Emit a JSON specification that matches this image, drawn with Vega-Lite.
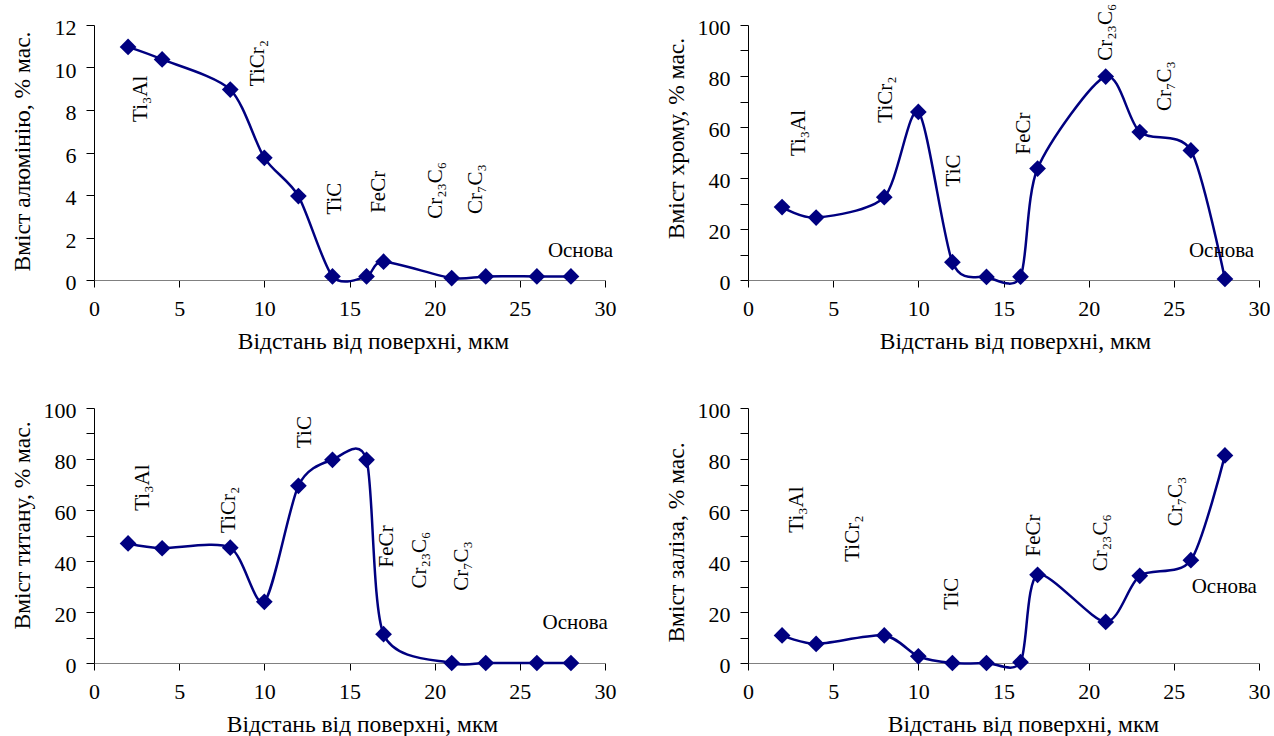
{
  "$schema": "https://vega.github.io/schema/vega-lite/v6.json",
  "autosize": {"type": "pad"},
  "padding": {"left": 9, "top": 3, "right": 0, "bottom": 0},
  "background": "white",
  "columns": 2,
  "spacing": {"row": 128, "column": 143},
  "bounds": "flush",
  "config": {
    "font": "Liberation Serif",
    "view": {"stroke": null},
    "axis": {"grid": false, "labelFont": "Liberation Serif", "labelFontSize": 22, "labelColor": "black", "titleFont": "Liberation Serif", "titleFontSize": 23.5, "titleFontWeight": "normal", "titleColor": "black", "tickColor": "black", "domainColor": "black", "tickSize": 8, "labelPadding": 10},
    "axisX": {"domainColor": "#808080", "tickSize": 7, "labelFlush": false, "labelBaseline": "alphabetic", "labelPadding": 28.5, "titleBaseline": "alphabetic", "titleY": 68, "titleAlign": "center"},
    "axisY": {"labelBaseline": "alphabetic", "labelOffset": 9.5, "labelPadding": 10, "titleBaseline": "alphabetic", "titleX": -65, "titleAlign": "center", "titleAngle": 270}
  },
  "concat": [
    {
      "width": 511, "height": 255,
      "encoding": {
        "x": {"field": "x", "type": "quantitative", "scale": {"domain": [0, 30], "nice": false}, "axis": {"values": [0, 5, 10, 15, 20, 25, 30], "title": "Відстань від поверхні, мкм", "titleX": 279}},
        "y": {"field": "y", "type": "quantitative", "scale": {"domain": [0, 12], "nice": false}, "axis": {"values": [0, 2, 4, 6, 8, 10, 12], "title": "Вміст алюмінію, % мас.", "titleY": 126}}
      },
      "layer": [
        {"data": {"values": [{"x": 2, "y": 10.97}, {"x": 4, "y": 10.38}, {"x": 8, "y": 8.96}, {"x": 10, "y": 5.75}, {"x": 12, "y": 3.95}, {"x": 14, "y": 0.17}, {"x": 16, "y": 0.17}, {"x": 17, "y": 0.86}, {"x": 21, "y": 0.09}, {"x": 23, "y": 0.17}, {"x": 26, "y": 0.17}, {"x": 28, "y": 0.17}]},
         "layer": [
           {"mark": {"type": "line", "interpolate": "cardinal", "tension": 0.2, "color": "#000080", "strokeWidth": 2.5}},
           {"mark": {"type": "point", "shape": "diamond", "filled": true, "size": 280, "color": "#000080", "opacity": 1}}
         ]},
        {"data": {"values": [{"x": 2.76, "y": 7.44, "label": "Ti₃Al"}, {"x": 9.65, "y": 9.12, "label": "TiCr₂"}, {"x": 14.16, "y": 3.08, "label": "TiC"}, {"x": 16.75, "y": 3.16, "label": "FeCr"}, {"x": 20.1, "y": 2.88, "label": "Cr₂₃C₆"}, {"x": 22.44, "y": 3.11, "label": "Cr₇C₃"}]},
         "mark": {"type": "text", "angle": 270, "align": "left", "baseline": "middle", "font": "Liberation Serif", "fontSize": 21, "color": "black"},
         "encoding": {"text": {"field": "label"}}},
        {"data": {"values": [{"x": 28.56, "y": 1.35, "label": "Основа"}]},
         "mark": {"type": "text", "align": "center", "baseline": "middle", "font": "Liberation Serif", "fontSize": 21, "color": "black"},
         "encoding": {"text": {"field": "label"}}}
      ]
    },
    {
      "width": 511, "height": 255,
      "encoding": {
        "x": {"field": "x", "type": "quantitative", "scale": {"domain": [0, 30], "nice": false}, "axis": {"values": [0, 5, 10, 15, 20, 25, 30], "title": "Відстань від поверхні, мкм", "titleX": 267}},
        "y": {"field": "y", "type": "quantitative", "scale": {"domain": [0, 100], "nice": false}, "axis": {"values": [0, 10, 20, 30, 40, 50, 60, 70, 80, 90, 100], "labelExpr": "datum.value % 20 === 0 ? datum.label : ''", "title": "Вміст хрому, % мас.", "titleY": 113}}
      },
      "layer": [
        {"data": {"values": [{"x": 2, "y": 28.6}, {"x": 4, "y": 24.5}, {"x": 8, "y": 32.5}, {"x": 10, "y": 65.9}, {"x": 12, "y": 7}, {"x": 14, "y": 1.2}, {"x": 16, "y": 1.3}, {"x": 17, "y": 43.7}, {"x": 21, "y": 79.8}, {"x": 23, "y": 58}, {"x": 26, "y": 50.8}, {"x": 28, "y": 0.4}]},
         "layer": [
           {"mark": {"type": "line", "interpolate": "cardinal", "tension": 0.2, "color": "#000080", "strokeWidth": 2.5}},
           {"mark": {"type": "point", "shape": "diamond", "filled": true, "size": 280, "color": "#000080", "opacity": 1}}
         ]},
        {"data": {"values": [{"x": 2.97, "y": 48.6, "label": "Ti₃Al"}, {"x": 8.08, "y": 61.7, "label": "TiCr₂"}, {"x": 12.1, "y": 36.7, "label": "TiC"}, {"x": 16.2, "y": 49.2, "label": "FeCr"}, {"x": 21.0, "y": 86, "label": "Cr₂₃C₆"}, {"x": 24.5, "y": 66.3, "label": "Cr₇C₃"}]},
         "mark": {"type": "text", "angle": 270, "align": "left", "baseline": "middle", "font": "Liberation Serif", "fontSize": 21, "color": "black"},
         "encoding": {"text": {"field": "label"}}},
        {"data": {"values": [{"x": 27.8, "y": 11.5, "label": "Основа"}]},
         "mark": {"type": "text", "align": "center", "baseline": "middle", "font": "Liberation Serif", "fontSize": 21, "color": "black"},
         "encoding": {"text": {"field": "label"}}}
      ]
    },
    {
      "width": 511, "height": 255,
      "encoding": {
        "x": {"field": "x", "type": "quantitative", "scale": {"domain": [0, 30], "nice": false}, "axis": {"values": [0, 5, 10, 15, 20, 25, 30], "title": "Відстань від поверхні, мкм", "titleX": 268}},
        "y": {"field": "y", "type": "quantitative", "scale": {"domain": [0, 100], "nice": false}, "axis": {"values": [0, 10, 20, 30, 40, 50, 60, 70, 80, 90, 100], "labelExpr": "datum.value % 20 === 0 ? datum.label : ''", "title": "Вміст титану, % мас.", "titleY": 117}}
      },
      "layer": [
        {"data": {"values": [{"x": 2, "y": 46.9}, {"x": 4, "y": 45}, {"x": 8, "y": 45.2}, {"x": 10, "y": 24}, {"x": 12, "y": 69.5}, {"x": 14, "y": 79.7}, {"x": 16, "y": 79.7}, {"x": 17, "y": 11.3}, {"x": 21, "y": 0}, {"x": 23, "y": 0}, {"x": 26, "y": 0}, {"x": 28, "y": 0}]},
         "layer": [
           {"mark": {"type": "line", "interpolate": "cardinal", "tension": 0.2, "color": "#000080", "strokeWidth": 2.5}},
           {"mark": {"type": "point", "shape": "diamond", "filled": true, "size": 280, "color": "#000080", "opacity": 1}}
         ]},
        {"data": {"values": [{"x": 2.89, "y": 59.7, "label": "Ti₃Al"}, {"x": 7.95, "y": 51, "label": "TiCr₂"}, {"x": 12.4, "y": 84.3, "label": "TiC"}, {"x": 17.2, "y": 37.5, "label": "FeCr"}, {"x": 19.15, "y": 29.2, "label": "Cr₂₃C₆"}, {"x": 21.6, "y": 28.3, "label": "Cr₇C₃"}]},
         "mark": {"type": "text", "angle": 270, "align": "left", "baseline": "middle", "font": "Liberation Serif", "fontSize": 21, "color": "black"},
         "encoding": {"text": {"field": "label"}}},
        {"data": {"values": [{"x": 28.25, "y": 15.5, "label": "Основа"}]},
         "mark": {"type": "text", "align": "center", "baseline": "middle", "font": "Liberation Serif", "fontSize": 21, "color": "black"},
         "encoding": {"text": {"field": "label"}}}
      ]
    },
    {
      "width": 511, "height": 255,
      "encoding": {
        "x": {"field": "x", "type": "quantitative", "scale": {"domain": [0, 30], "nice": false}, "axis": {"values": [0, 5, 10, 15, 20, 25, 30], "title": "Відстань від поверхні, мкм", "titleX": 275}},
        "y": {"field": "y", "type": "quantitative", "scale": {"domain": [0, 100], "nice": false}, "axis": {"values": [0, 10, 20, 30, 40, 50, 60, 70, 80, 90, 100], "labelExpr": "datum.value % 20 === 0 ? datum.label : ''", "title": "Вміст заліза, % мас.", "titleY": 134}}
      },
      "layer": [
        {"data": {"values": [{"x": 2, "y": 10.8}, {"x": 4, "y": 7.5}, {"x": 8, "y": 10.8}, {"x": 10, "y": 2.6}, {"x": 12, "y": 0}, {"x": 14, "y": 0}, {"x": 16, "y": 0.3}, {"x": 17, "y": 34.6}, {"x": 21, "y": 16.1}, {"x": 23, "y": 34.2}, {"x": 26, "y": 40.3}, {"x": 28, "y": 81.4}]},
         "layer": [
           {"mark": {"type": "line", "interpolate": "cardinal", "tension": 0.2, "color": "#000080", "strokeWidth": 2.5}},
           {"mark": {"type": "point", "shape": "diamond", "filled": true, "size": 280, "color": "#000080", "opacity": 1}}
         ]},
        {"data": {"values": [{"x": 2.88, "y": 51.1, "label": "Ti₃Al"}, {"x": 6.19, "y": 39.7, "label": "TiCr₂"}, {"x": 12.0, "y": 20.9, "label": "TiC"}, {"x": 16.8, "y": 41.8, "label": "FeCr"}, {"x": 20.7, "y": 36, "label": "Cr₂₃C₆"}, {"x": 25.1, "y": 53.6, "label": "Cr₇C₃"}]},
         "mark": {"type": "text", "angle": 270, "align": "left", "baseline": "middle", "font": "Liberation Serif", "fontSize": 21, "color": "black"},
         "encoding": {"text": {"field": "label"}}},
        {"data": {"values": [{"x": 27.96, "y": 30, "label": "Основа"}]},
         "mark": {"type": "text", "align": "center", "baseline": "middle", "font": "Liberation Serif", "fontSize": 21, "color": "black"},
         "encoding": {"text": {"field": "label"}}}
      ]
    }
  ]
}
